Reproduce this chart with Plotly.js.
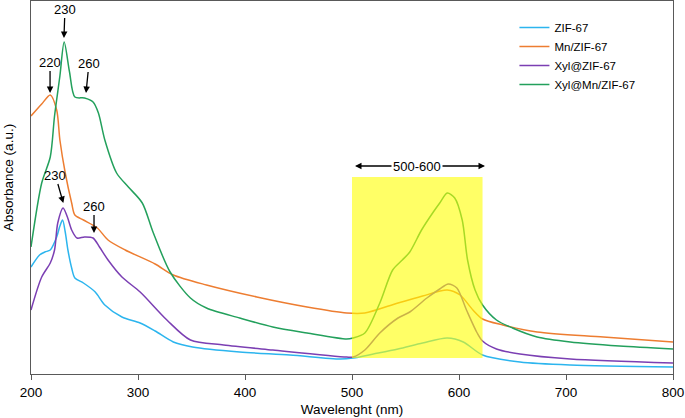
<!DOCTYPE html>
<html>
<head>
<meta charset="utf-8">
<script src="https://cdn.plot.ly/plotly-3.0.1.min.js"></script>
<style>html,body{margin:0;padding:0;background:#fff;}#chart{width:685px;height:418px;}</style>
</head>
<body>
<div id="chart"></div>
<script>
// Wavelength (nm) and absorbance (a.u.)
const zifX = [200,208,213,218,224,227,229.5,232,234.5,238,241,249,260,269,285,302,316,333,351,395,442,489,501,520,543,566,589,604,622,657,704,800];
const zifY = [1.07,1.19,1.22,1.24,1.37,1.48,1.54,1.42,1.24,1.06,0.96,0.91,0.82,0.69,0.57,0.51,0.43,0.32,0.27,0.22,0.19,0.15,0.16,0.20,0.25,0.31,0.36,0.32,0.19,0.12,0.09,0.07];

const mnX = [200,210,218,224,227,232,238,241,249,262,272,288,316,333,364,411,458,495,512,543,566,589,601,613,622,641,673,735,800];
const mnY = [2.58,2.70,2.79,2.64,2.34,2.01,1.71,1.59,1.54,1.46,1.34,1.24,1.10,0.99,0.89,0.77,0.67,0.61,0.61,0.71,0.78,0.84,0.79,0.64,0.55,0.49,0.42,0.37,0.32];

const xylX = [200,210,218,222,225,230,234,238,243,250,258,264,272,285,302,327,349,380,426,495,501,512,526,543,554,570,582,590,598,607,617,622,635,657,704,800];
const xylY = [0.64,0.97,1.11,1.24,1.51,1.66,1.57,1.44,1.36,1.37,1.36,1.27,1.14,0.97,0.82,0.54,0.34,0.29,0.24,0.17,0.17,0.24,0.41,0.56,0.62,0.76,0.85,0.90,0.86,0.64,0.41,0.33,0.25,0.20,0.15,0.11];

const xylMnX = [200,210,218,222,227,231,236,241,250,258,263,269,280,291,304,314,330,349,364,395,426,458,495,501,512,526,538,547,554,565,576,582,589,596,603,608,615,622,635,650,673,704,750,800];
const xylMnY = [1.27,1.91,2.17,2.58,2.98,3.32,3.02,2.77,2.76,2.72,2.61,2.34,2.01,1.87,1.71,1.42,1.02,0.76,0.66,0.56,0.47,0.41,0.35,0.36,0.41,0.71,1.04,1.14,1.22,1.44,1.62,1.71,1.81,1.76,1.54,1.14,0.84,0.69,0.54,0.46,0.37,0.32,0.28,0.25];

const seriesNames = ["ZIF-67","Mn/ZIF-67","Xyl@ZIF-67","Xyl@Mn/ZIF-67"];
const seriesColors = ["#2CB5EE","#ED7D31","#7B3FB3","#23A05C"];

// Highlighted band (nm) and its label
const bandX = [500, 622];
const bandY = [0.16, 1.97];
const bandLabel = "500-600";

// Peak markers: [label, wavelength, absorbance at arrow tip, label dx, label dy]
const peakNotes = [
  ["230", 230.8, 3.36, 1, -29],
  ["220", 217.8, 2.81, 0, -31],
  ["260", 251.4, 2.81, 3, -30],
  ["230", 230.2, 1.71, -8, -28],
  ["260", 258.9, 1.41, 0, -27]
];

const xs = [zifX, mnX, xylX, xylMnX];
const ys = [zifY, mnY, xylY, xylMnY];
const traces = seriesNames.map((n, i) => ({
  x: xs[i], y: ys[i], name: n, type: "scatter", mode: "lines",
  line: {color: seriesColors[i], width: 1.5, shape: "spline", smoothing: 0.8}
}));

const fam = "Liberation Sans, Arial, sans-serif";
const font = {family: fam, size: 13, color: "#000"};
const axisFont = {family: fam, size: 13.5, color: "#000"};

const annotations = peakNotes.map(p => ({
  x: p[1], y: p[2], xref: "x", yref: "y", text: p[0],
  showarrow: true, arrowhead: 2, arrowsize: 1, arrowwidth: 1.3, arrowcolor: "#000",
  ax: p[3], ay: p[4], font: font
}));

const bandMid = (bandX[0] + bandX[1]) / 2 - 0.5;
const arrowY = 2.08;
annotations.push({x: bandX[0] + 2.8, y: arrowY, xref: "x", yref: "y", axref: "x", ayref: "y",
  ax: bandMid, ay: arrowY, text: "", showarrow: true, arrowhead: 2, arrowsize: 1, arrowwidth: 1.3, arrowcolor: "#000"});
annotations.push({x: bandX[1] + 2.3, y: arrowY, xref: "x", yref: "y", axref: "x", ayref: "y",
  ax: bandMid, ay: arrowY, text: "", showarrow: true, arrowhead: 2, arrowsize: 1, arrowwidth: 1.3, arrowcolor: "#000"});
annotations.push({x: bandMid, y: arrowY, xref: "x", yref: "y", text: bandLabel, showarrow: false,
  bgcolor: "#fff", borderpad: 1, font: font});
// y-axis title
annotations.push({x: 0, y: 0.525, xref: "paper", yref: "paper", text: "Absorbance (a.u.)", textangle: -90,
  showarrow: false, xanchor: "center", yanchor: "middle", xshift: -23, font: axisFont});

const layout = {
  width: 685, height: 418,
  margin: {l: 31, r: 12, t: 1, b: 44},
  paper_bgcolor: "#fff", plot_bgcolor: "#fff",
  font: font,
  showlegend: true,
  legend: {x: 0.753, y: 0.968, xanchor: "left", yanchor: "top", bgcolor: "rgba(0,0,0,0)",
    font: {family: fam, size: 11.5, color: "#000"}, tracegroupgap: 0, itemwidth: 30},
  xaxis: {
    range: [200, 800], tickvals: [200,300,400,500,600,700,800],
    ticks: "outside", ticklen: 5, tickcolor: "#595959", tickwidth: 1,
    showline: true, linecolor: "#595959", linewidth: 1, mirror: true,
    showgrid: false, zeroline: false, ticklabelstandoff: 1,
    tickfont: axisFont,
    title: {text: "Wavelenght (nm)", font: axisFont, standoff: 5}
  },
  yaxis: {
    range: [0, 3.73], showticklabels: false, ticks: "",
    showline: true, linecolor: "#595959", linewidth: 1, mirror: true,
    showgrid: false, zeroline: false
  },
  shapes: [{type: "rect", xref: "x", yref: "y", x0: bandX[0], x1: bandX[1], y0: bandY[0], y1: bandY[1],
    fillcolor: "#FFFF00", opacity: 0.6, line: {width: 0}, layer: "above"}],
  annotations: annotations
};

Plotly.newPlot("chart", traces, layout, {displayModeBar: false, staticPlot: true});
</script>
</body>
</html>
